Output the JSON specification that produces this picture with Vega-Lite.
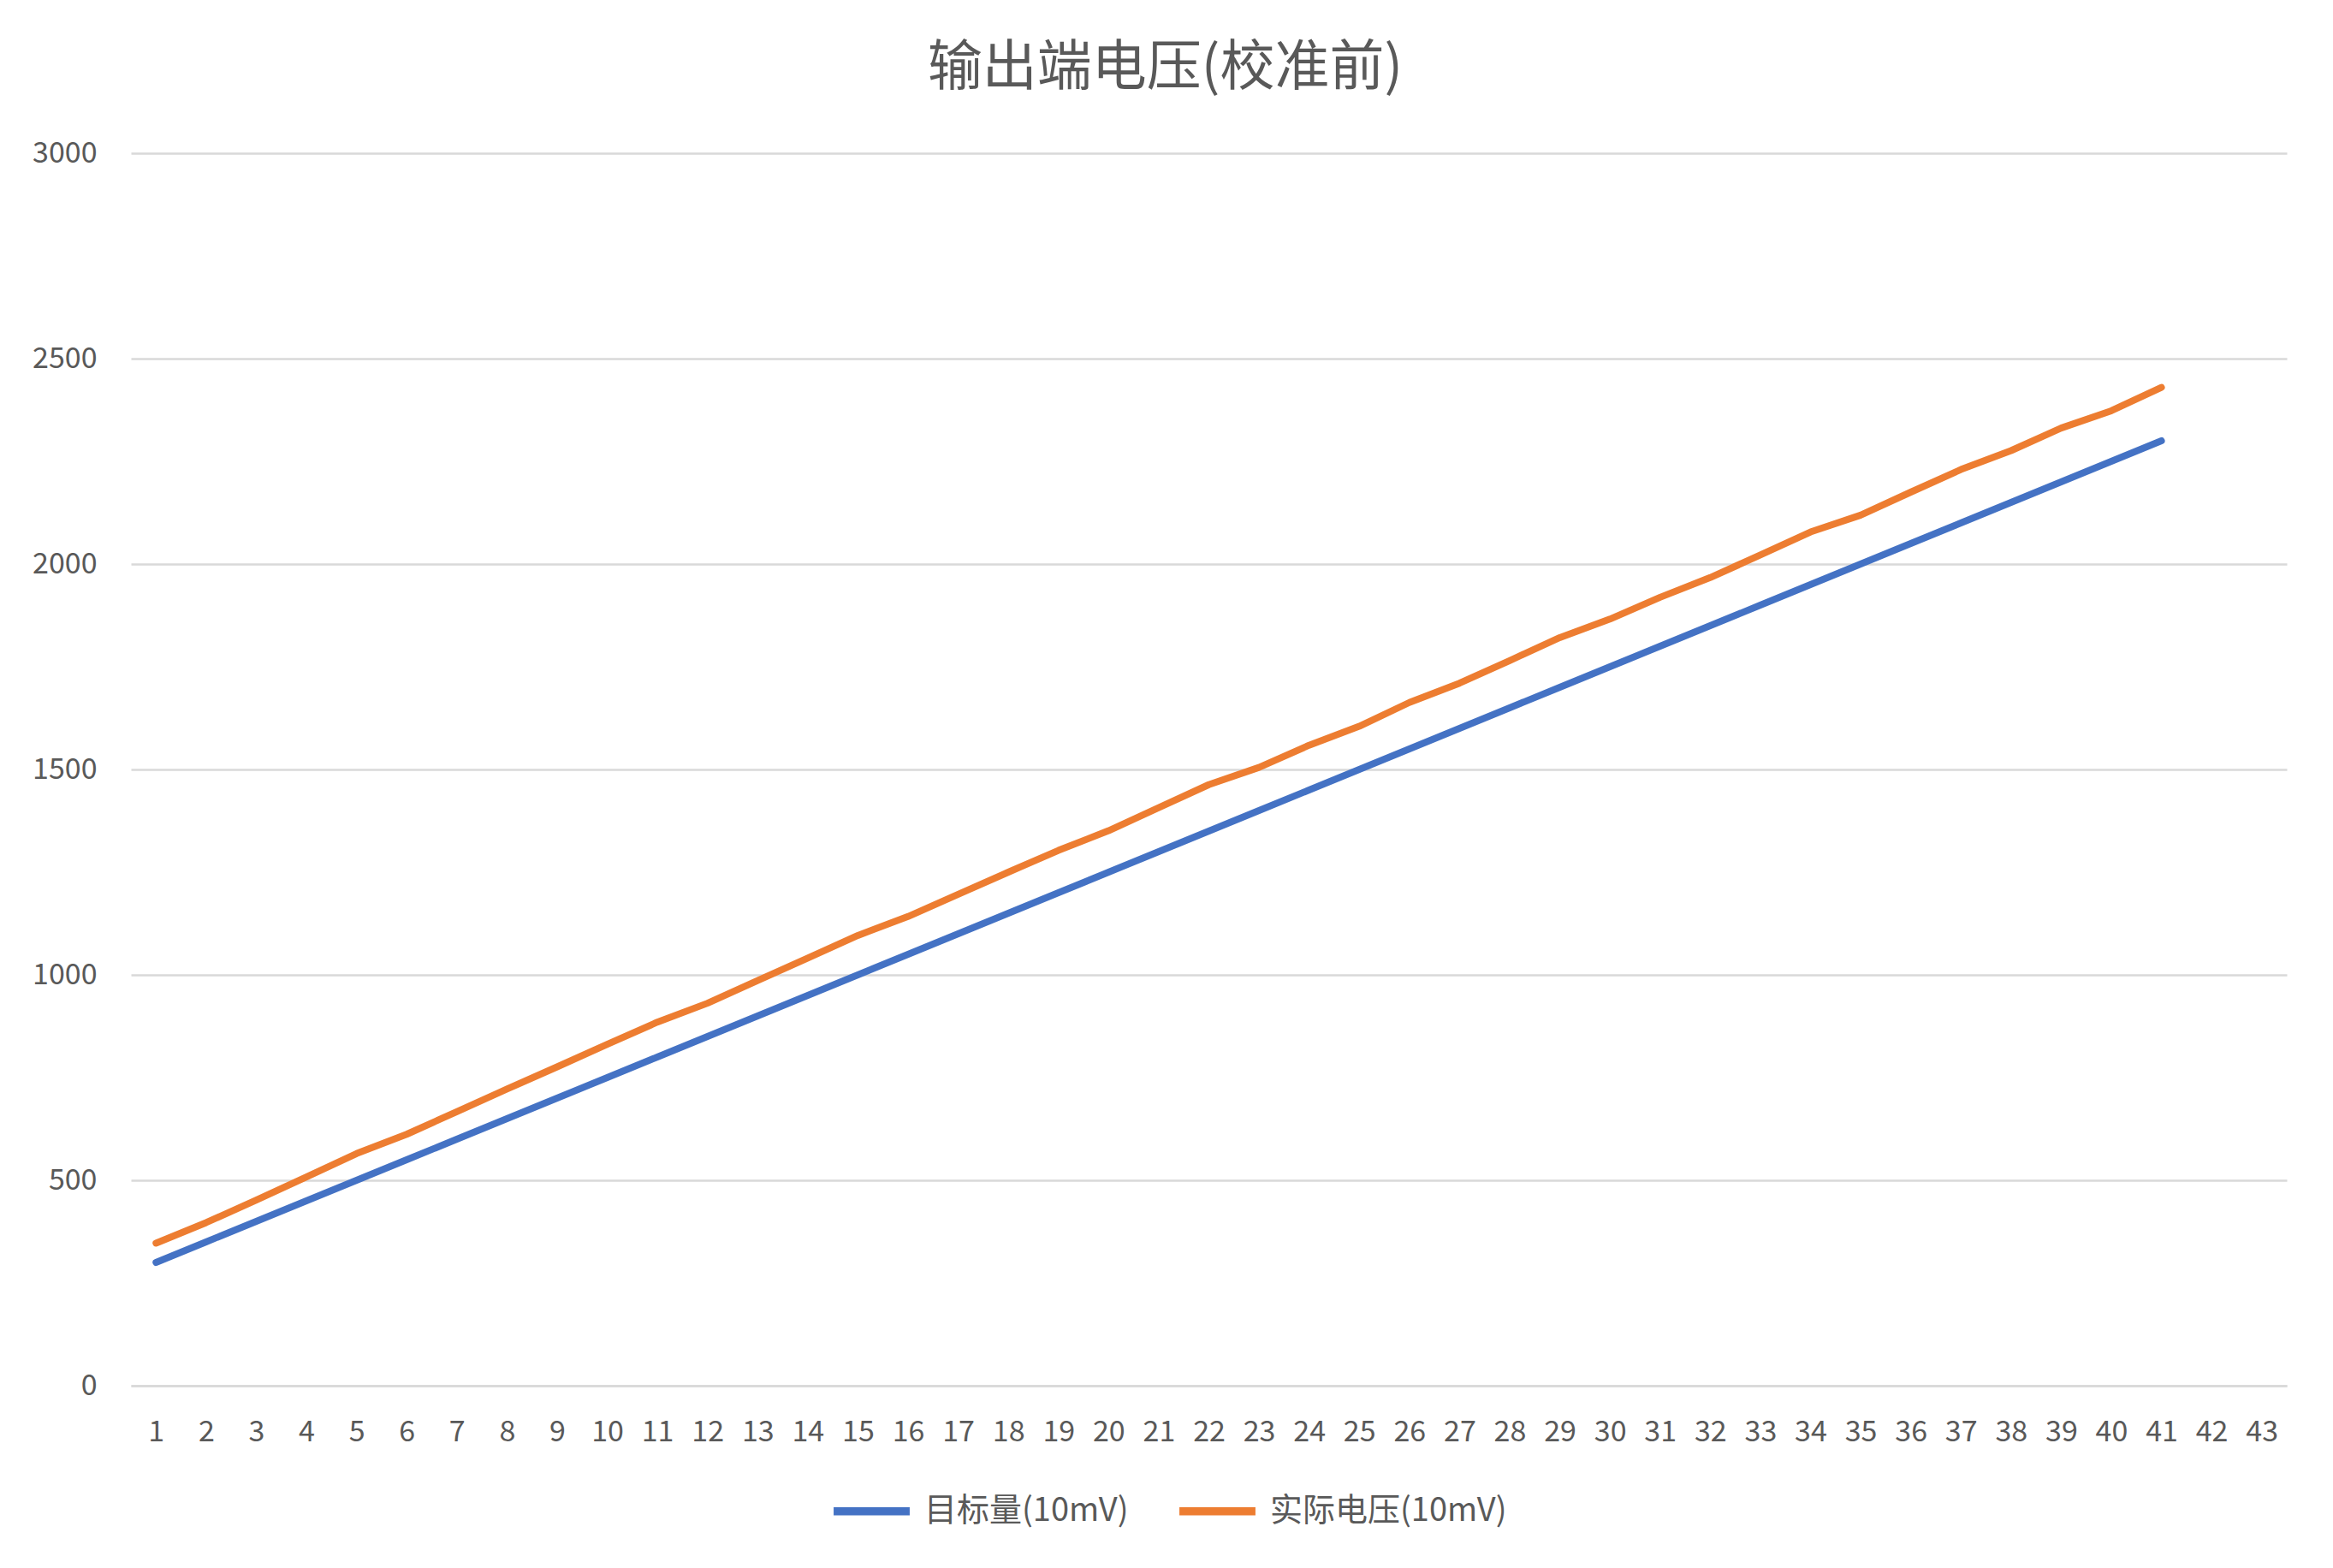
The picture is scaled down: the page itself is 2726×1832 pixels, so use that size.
{
  "$schema": "https://vega.github.io/schema/vega-lite/v6.json",
  "autosize": {"type": "none"},
  "width": 2519,
  "height": 1440,
  "padding": {"left": 153, "top": 179, "right": 54, "bottom": 213},
  "background": "white",
  "title": {
    "text": "输出端电压(校准前)",
    "font": "Noto Sans CJK SC",
    "fontSize": 64,
    "fontWeight": "normal",
    "color": "#595959",
    "anchor": "middle",
    "baseline": "bottom",
    "offset": -14,
    "dx": -51
  },
  "data": {
    "values": [
      {"n": "1", "series": "目标量(10mV)", "v": 300},
      {"n": "2", "series": "目标量(10mV)", "v": 350},
      {"n": "3", "series": "目标量(10mV)", "v": 400},
      {"n": "4", "series": "目标量(10mV)", "v": 450},
      {"n": "5", "series": "目标量(10mV)", "v": 500},
      {"n": "6", "series": "目标量(10mV)", "v": 550},
      {"n": "7", "series": "目标量(10mV)", "v": 600},
      {"n": "8", "series": "目标量(10mV)", "v": 650},
      {"n": "9", "series": "目标量(10mV)", "v": 700},
      {"n": "10", "series": "目标量(10mV)", "v": 750},
      {"n": "11", "series": "目标量(10mV)", "v": 800},
      {"n": "12", "series": "目标量(10mV)", "v": 850},
      {"n": "13", "series": "目标量(10mV)", "v": 900},
      {"n": "14", "series": "目标量(10mV)", "v": 950},
      {"n": "15", "series": "目标量(10mV)", "v": 1000},
      {"n": "16", "series": "目标量(10mV)", "v": 1050},
      {"n": "17", "series": "目标量(10mV)", "v": 1100},
      {"n": "18", "series": "目标量(10mV)", "v": 1150},
      {"n": "19", "series": "目标量(10mV)", "v": 1200},
      {"n": "20", "series": "目标量(10mV)", "v": 1250},
      {"n": "21", "series": "目标量(10mV)", "v": 1300},
      {"n": "22", "series": "目标量(10mV)", "v": 1350},
      {"n": "23", "series": "目标量(10mV)", "v": 1400},
      {"n": "24", "series": "目标量(10mV)", "v": 1450},
      {"n": "25", "series": "目标量(10mV)", "v": 1500},
      {"n": "26", "series": "目标量(10mV)", "v": 1550},
      {"n": "27", "series": "目标量(10mV)", "v": 1600},
      {"n": "28", "series": "目标量(10mV)", "v": 1650},
      {"n": "29", "series": "目标量(10mV)", "v": 1700},
      {"n": "30", "series": "目标量(10mV)", "v": 1750},
      {"n": "31", "series": "目标量(10mV)", "v": 1800},
      {"n": "32", "series": "目标量(10mV)", "v": 1850},
      {"n": "33", "series": "目标量(10mV)", "v": 1900},
      {"n": "34", "series": "目标量(10mV)", "v": 1950},
      {"n": "35", "series": "目标量(10mV)", "v": 2000},
      {"n": "36", "series": "目标量(10mV)", "v": 2050},
      {"n": "37", "series": "目标量(10mV)", "v": 2100},
      {"n": "38", "series": "目标量(10mV)", "v": 2150},
      {"n": "39", "series": "目标量(10mV)", "v": 2200},
      {"n": "40", "series": "目标量(10mV)", "v": 2250},
      {"n": "41", "series": "目标量(10mV)", "v": 2300},
      {"n": "1", "series": "实际电压(10mV)", "v": 347},
      {"n": "2", "series": "实际电压(10mV)", "v": 397},
      {"n": "3", "series": "实际电压(10mV)", "v": 452},
      {"n": "4", "series": "实际电压(10mV)", "v": 508},
      {"n": "5", "series": "实际电压(10mV)", "v": 565},
      {"n": "6", "series": "实际电压(10mV)", "v": 612},
      {"n": "7", "series": "实际电压(10mV)", "v": 667},
      {"n": "8", "series": "实际电压(10mV)", "v": 722},
      {"n": "9", "series": "实际电压(10mV)", "v": 776},
      {"n": "10", "series": "实际电压(10mV)", "v": 831},
      {"n": "11", "series": "实际电压(10mV)", "v": 885},
      {"n": "12", "series": "实际电压(10mV)", "v": 931},
      {"n": "13", "series": "实际电压(10mV)", "v": 986},
      {"n": "14", "series": "实际电压(10mV)", "v": 1041},
      {"n": "15", "series": "实际电压(10mV)", "v": 1096},
      {"n": "16", "series": "实际电压(10mV)", "v": 1142},
      {"n": "17", "series": "实际电压(10mV)", "v": 1196},
      {"n": "18", "series": "实际电压(10mV)", "v": 1250},
      {"n": "19", "series": "实际电压(10mV)", "v": 1303},
      {"n": "20", "series": "实际电压(10mV)", "v": 1351},
      {"n": "21", "series": "实际电压(10mV)", "v": 1407},
      {"n": "22", "series": "实际电压(10mV)", "v": 1463},
      {"n": "23", "series": "实际电压(10mV)", "v": 1505},
      {"n": "24", "series": "实际电压(10mV)", "v": 1559},
      {"n": "25", "series": "实际电压(10mV)", "v": 1605},
      {"n": "26", "series": "实际电压(10mV)", "v": 1663},
      {"n": "27", "series": "实际电压(10mV)", "v": 1710},
      {"n": "28", "series": "实际电压(10mV)", "v": 1765},
      {"n": "29", "series": "实际电压(10mV)", "v": 1821},
      {"n": "30", "series": "实际电压(10mV)", "v": 1866},
      {"n": "31", "series": "实际电压(10mV)", "v": 1919},
      {"n": "32", "series": "实际电压(10mV)", "v": 1967},
      {"n": "33", "series": "实际电压(10mV)", "v": 2022},
      {"n": "34", "series": "实际电压(10mV)", "v": 2078},
      {"n": "35", "series": "实际电压(10mV)", "v": 2119},
      {"n": "36", "series": "实际电压(10mV)", "v": 2175},
      {"n": "37", "series": "实际电压(10mV)", "v": 2230},
      {"n": "38", "series": "实际电压(10mV)", "v": 2276},
      {"n": "39", "series": "实际电压(10mV)", "v": 2331},
      {"n": "40", "series": "实际电压(10mV)", "v": 2373},
      {"n": "41", "series": "实际电压(10mV)", "v": 2430}
    ]
  },
  "mark": {"type": "line", "strokeWidth": 8, "strokeCap": "round", "strokeJoin": "round"},
  "encoding": {
    "x": {
      "field": "n",
      "type": "ordinal",
      "sort": null,
      "scale": {
        "type": "point",
        "padding": 0.5,
        "domain": ["1","2","3","4","5","6","7","8","9","10","11","12","13","14","15","16","17","18","19","20","21","22","23","24","25","26","27","28","29","30","31","32","33","34","35","36","37","38","39","40","41","42","43"]
      },
      "axis": {
        "title": null,
        "labelAngle": 0,
        "labelFontSize": 34,
        "labelPadding": 37,
        "ticks": false,
        "domainColor": "#D9D9D9",
        "domainWidth": 2.5,
        "grid": false
      }
    },
    "y": {
      "field": "v",
      "type": "quantitative",
      "scale": {"domain": [0, 3000], "nice": false},
      "axis": {
        "title": null,
        "values": [0, 500, 1000, 1500, 2000, 2500, 3000],
        "format": "d",
        "labelFontSize": 34,
        "labelPadding": 40,
        "ticks": false,
        "domain": false,
        "gridColor": "#D9D9D9",
        "gridWidth": 2.5
      }
    },
    "color": {
      "field": "series",
      "type": "nominal",
      "sort": null,
      "scale": {
        "domain": ["目标量(10mV)", "实际电压(10mV)"],
        "range": ["#4472C4", "#ED7D31"]
      },
      "legend": {
        "title": null,
        "orient": "none",
        "direction": "horizontal",
        "legendX": 816,
        "legendY": 1537,
        "padding": 0,
        "symbolType": "stroke",
        "symbolSize": 7900,
        "symbolStrokeWidth": 9.5,
        "labelFontSize": 38,
        "labelLimit": 600,
        "labelOffset": 12,
        "columnPadding": 40
      }
    }
  },
  "config": {
    "font": "Noto Sans CJK SC",
    "view": {"stroke": null},
    "axis": {"labelFont": "Noto Sans CJK SC", "labelColor": "#595959"},
    "legend": {"labelFont": "Noto Sans CJK SC", "labelColor": "#595959"}
  }
}
